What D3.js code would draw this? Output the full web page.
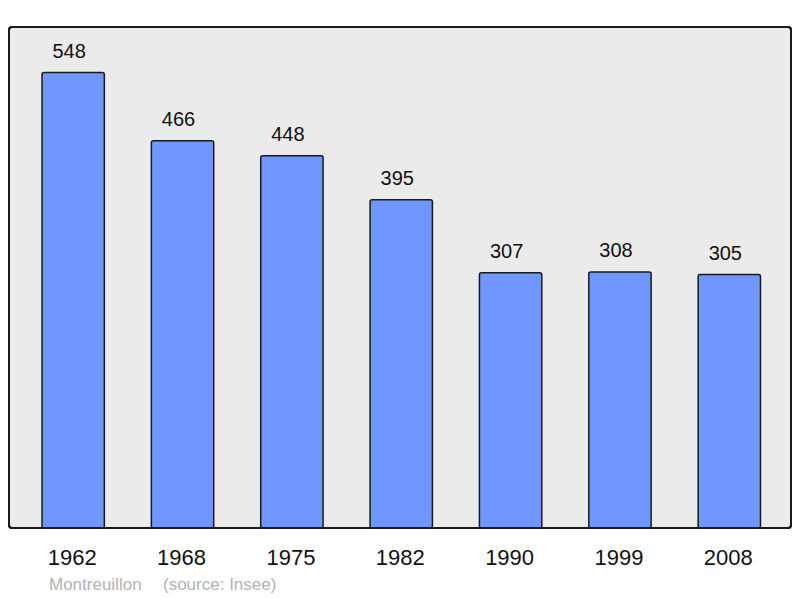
<!DOCTYPE html>
<html><head><meta charset="utf-8">
<script src="https://cdn.jsdelivr.net/npm/d3@7"></script>
<style>body{margin:0;background:#fff}svg{display:block}text{font-family:"Liberation Sans",Arial,sans-serif}</style>
</head><body>
<svg id="c" width="800" height="598"></svg>
<script>
const years = ["1962","1968","1975","1982","1990","1999","2008"];
const population = [548,466,448,395,307,308,305];
const commune = "Montreuillon";
const source = "(source: Insee)";

const svg = d3.select("#c");
const frame = {x0:9, y0:27, x1:791, y1:528};
svg.append("rect").attr("x",frame.x0).attr("y",frame.y0)
  .attr("width",frame.x1-frame.x0).attr("height",frame.y1-frame.y0)
  .attr("rx",3).attr("fill","#ebebeb").attr("stroke","#1a1a1a").attr("stroke-width",2);

const x = d3.scaleBand().domain(years).range([18.5,784]).paddingInner(0.43).paddingOuter(0.215);
const y = d3.scaleLinear().domain([0, 548*1.1]).range([frame.y1, frame.y0]);

const g = svg.append("g");
g.selectAll("rect.bar").data(population).join("rect").attr("class","bar")
  .attr("x",(d,i)=>x(years[i])).attr("width",x.bandwidth())
  .attr("y",d=>y(d)).attr("height",d=>frame.y1-y(d))
  .attr("rx",2)
  .attr("fill","#7097ff").attr("stroke","#1a1a1a").attr("stroke-width",1.5);

g.selectAll("text.val").data(population).join("text").attr("class","val")
  .attr("x",(d,i)=>x(years[i])+x.bandwidth()/2-4).attr("y",d=>y(d)-15)
  .attr("text-anchor","middle").attr("font-size",20).attr("fill","#111")
  .text(d=>d);

svg.append("rect").attr("x",frame.x0).attr("y",frame.y0)
  .attr("width",frame.x1-frame.x0).attr("height",frame.y1-frame.y0)
  .attr("rx",3).attr("fill","none").attr("stroke","#1a1a1a").attr("stroke-width",2);

const xAxis = d3.axisBottom(x).tickSize(0).tickPadding(0);
const ax = svg.append("g").attr("transform",`translate(0,${frame.y1})`).call(xAxis);
ax.select(".domain").remove();
ax.selectAll("text").attr("font-size",22).attr("fill","#111")
  .attr("font-family","Liberation Sans, Arial, sans-serif").attr("dy",null).attr("y",37).attr("dx",-1);

svg.append("text").attr("x",49).attr("y",590).attr("font-size",17).attr("fill","#b3b3b3").text(commune);
svg.append("text").attr("x",163).attr("y",590).attr("font-size",17).attr("fill","#b3b3b3").text(source);
</script>
</body></html>
